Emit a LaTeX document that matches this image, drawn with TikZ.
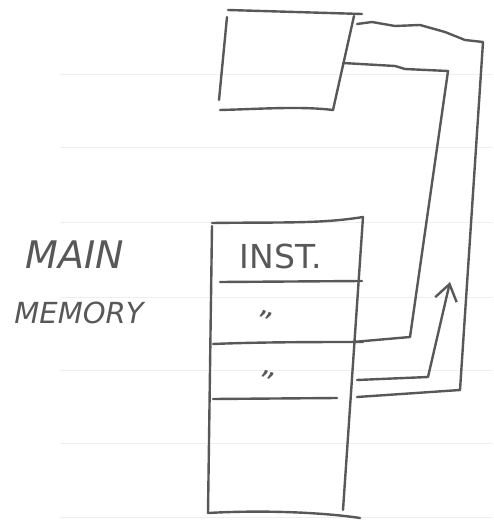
\documentclass[tikz,border=0pt]{standalone}
\usepackage{fontspec}
\setmainfont{DejaVu Sans}
\usetikzlibrary{arrows.meta}
\definecolor{ink}{RGB}{88,88,88}
\definecolor{rule}{RGB}{238,238,240}
\tikzset{
  pen/.style={draw=ink, line width=2.4pt, line cap=round, line join=round},
  paperrule/.style={draw=rule, line width=1pt},
  hand/.style={text=ink, inner sep=0pt, anchor=center},
}
\begin{document}
\begin{tikzpicture}[x=1pt,y=-1pt]
\useasboundingbox (0,0) rectangle (493,529);
% faint ruled lines of the paper
\foreach \yy in {75,148,222,297,370,443,517} {
  \draw[paperrule] (60,\yy) -- (493,\yy);
}
% top box (register)
\coordinate (rTL) at (228,10);
\coordinate (rTR) at (362,14);
\coordinate (rBL) at (220,110);
\coordinate (rBR) at (333,110);
\draw[pen] (rTL) -- (rTR);
\draw[pen] (227,17) -- (219,100);
\draw[pen] (rBL) .. controls (260,109) and (300,106) .. (rBR);
\draw[pen] (354,16) -- (rBR);
% main memory block
\coordinate (mTL) at (212,223);
\coordinate (mTR) at (363,217);
\coordinate (mBL) at (208,513);
\coordinate (mBR) at (360,518);
\draw[pen] (mTL) .. controls (280,222) and (320,224) .. (mTR);
\draw[pen] (212,226) -- (mBL);
\draw[pen] (mTR) -- (343,510);
\draw[pen] (mBL) .. controls (260,510) and (320,512) .. (mBR);
% memory rows
\draw[pen] (220,282) -- (362,281);
\draw[pen] (213,344) .. controls (260,342) and (320,342) .. (363,342);
\draw[pen] (213,399) -- (337,398);
% texts
\node[hand, font=\fontsize{33}{33}\selectfont] (inst) at (281,256) {INST.};
\node[hand, font=\fontsize{30}{30}\selectfont, rotate=-20] (d1) at (264,322) {''};
\node[hand, font=\fontsize{30}{30}\selectfont, rotate=-20] (d2) at (266,382) {''};
\node[hand, font=\itshape\fontsize{38}{38}\selectfont] (main) at (75,255) {MAIN};
\node[hand, font=\itshape\fontsize{29}{29}\selectfont] (mem) at (79,313) {MEMORY};
% outer loop
\coordinate (o1) at (357,24);
\coordinate (o2) at (483,42);
\coordinate (o3) at (460,390);
\coordinate (o4) at (357,397);
\draw[pen] (o1) -- (372,22) -- (395,26) -- (420,25) -- (445,32) -- (465,40) -- (o2) -- (o3) -- (o4);
% inner loop
\coordinate (i1) at (343,63);
\coordinate (i2) at (448,71);
\coordinate (i3) at (410,337);
\coordinate (i4) at (353,342);
\draw[pen] (i1) -- (395,66) -- (405,69) -- (i2) -- (i3) -- (i4);
% arrow
\coordinate (a1) at (357,380);
\coordinate (a2) at (428,377);
\coordinate (a3) at (450,282);
\draw[pen, -{Straight Barb[length=16pt, width=22pt, line width=2.4pt]}] (a1) -- (a2) -- (a3);
\end{tikzpicture}
\end{document}
